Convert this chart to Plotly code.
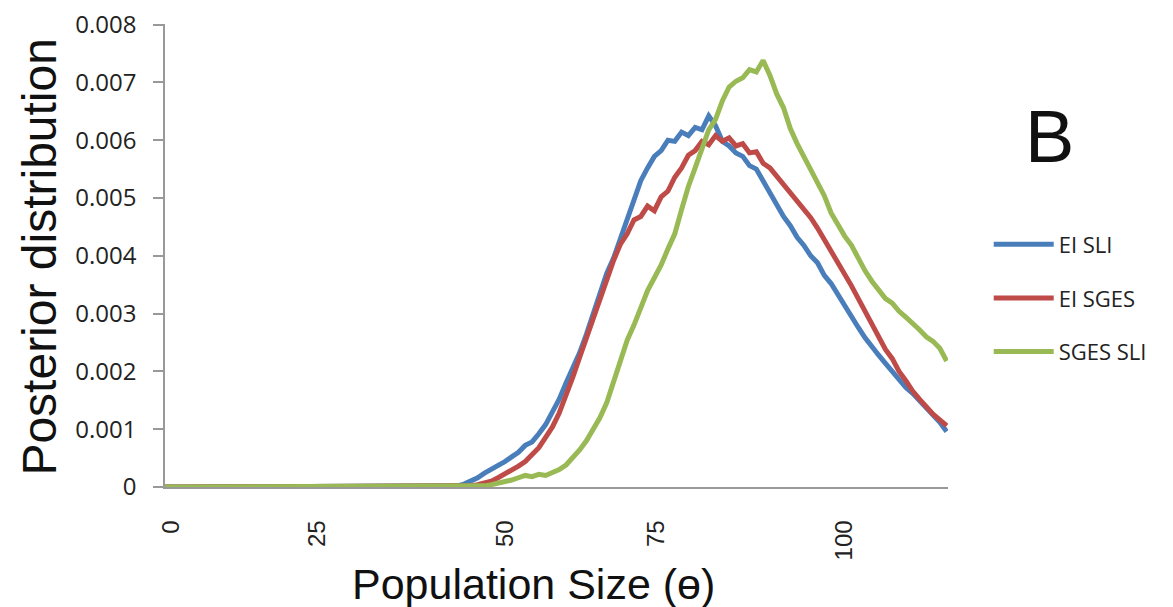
import plotly.graph_objects as go

# Posterior distribution of population size (theta), panel B
# x positions follow the original category axis (0..115), labels are not evenly placed
x_pos = list(range(0, 116))

ei_sli = [0.0] * 43 + [
    0.00002, 0.00005, 0.0001, 0.00016, 0.00024, 0.0003, 0.00036, 0.00044, 0.00052, 0.0006,
    0.00072, 0.00078, 0.00092, 0.00108, 0.0013, 0.00152, 0.0018, 0.00204, 0.00232, 0.00264,
    0.003, 0.00338, 0.0037, 0.00396, 0.0043, 0.00462, 0.00498, 0.0053, 0.00552, 0.00572,
    0.00582, 0.006, 0.00598, 0.00614, 0.00608, 0.00622, 0.00618, 0.00642, 0.00625, 0.00598,
    0.0059, 0.00578, 0.00572, 0.00556, 0.0055, 0.0053, 0.00508, 0.00486, 0.00468, 0.00452,
    0.00432, 0.00418, 0.004, 0.00388, 0.00366, 0.00352, 0.00332, 0.00314, 0.00294, 0.00276,
    0.00258, 0.00242, 0.00228, 0.00214, 0.002, 0.00186, 0.00172, 0.00162, 0.0015, 0.00138,
    0.00126, 0.00112, 0.00096,
]

ei_sges = [0.0] * 45 + [
    0.00002, 0.00004, 0.00007, 0.0001, 0.00016, 0.00022, 0.00028, 0.00036, 0.00044, 0.00056,
    0.00068, 0.00086, 0.00104, 0.00128, 0.00158, 0.0019, 0.00224, 0.00258, 0.00294, 0.00326,
    0.00362, 0.00392, 0.0042, 0.00438, 0.00462, 0.00468, 0.00486, 0.00478, 0.00502, 0.00512,
    0.00536, 0.00552, 0.00574, 0.00582, 0.00598, 0.00592, 0.00608, 0.00598, 0.00604, 0.0059,
    0.00594, 0.00578, 0.0058, 0.0056, 0.00552, 0.00538, 0.00522, 0.0051, 0.00496, 0.00482,
    0.00466, 0.00448, 0.00428, 0.00412, 0.00388, 0.00372, 0.00348, 0.00326, 0.00304, 0.00282,
    0.0026, 0.00238, 0.00222, 0.002, 0.00184, 0.00166, 0.00152, 0.00138, 0.00126, 0.00116,
    0.00106,
]

sges_sli = [0.0] * 47 + [
    0.00002, 0.00004, 0.00006, 0.00008, 0.00012, 0.00016, 0.0002, 0.00018, 0.00022, 0.0002,
    0.00024, 0.0003, 0.00038, 0.0005, 0.00064, 0.0008, 0.00098, 0.0012, 0.00146, 0.00182,
    0.00218, 0.00254, 0.0028, 0.00312, 0.0034, 0.00362, 0.00384, 0.00412, 0.00438, 0.0048,
    0.0052, 0.00552, 0.00586, 0.00618, 0.00636, 0.00668, 0.00692, 0.00702, 0.00708, 0.00722,
    0.00718, 0.00738, 0.00712, 0.0068, 0.00656, 0.0062, 0.00594, 0.00572, 0.00548, 0.00526,
    0.00504, 0.00474, 0.00452, 0.00434, 0.00418, 0.00394, 0.00374, 0.00356, 0.00342, 0.00326,
    0.00318, 0.00304, 0.00294, 0.00284, 0.00272, 0.0026, 0.00252, 0.0024, 0.00218,
]

tick_pos = [0.9, 22.4, 50, 72.2, 100]
tick_text = ["0", "25", "50", "75", "100"]
y_ticks = [0, 0.001, 0.002, 0.003, 0.004, 0.005, 0.006, 0.007, 0.008]
y_text = ["0", "0.001", "0.002", "0.003", "0.004", "0.005", "0.006", "0.007", "0.008"]

series = [
    ("EI SLI", ei_sli, "#4A7EBB"),
    ("EI SGES", ei_sges, "#BE4B48"),
    ("SGES SLI", sges_sli, "#98B954"),
]

fig = go.Figure()
for i, (name, vals, color) in enumerate(series):
    fig.add_trace(go.Scatter(
        x=x_pos, y=vals, name=name, mode="lines",
        line=dict(color=color, width=5),
        legendgroup=str(i),
    ))

# the page body adds an 8px margin, so the figure is 8px smaller each way
fig.update_layout(
    width=1165, height=599,
    margin=dict(l=157, r=225, t=16, b=120),
    paper_bgcolor="white", plot_bgcolor="white",
    showlegend=True,
    legend=dict(
        x=1.052, xanchor="left", y=0.569, yanchor="top",
        font=dict(family="Open Sans", size=22, color="#222"),
        tracegroupgap=22, itemwidth=60,
        bgcolor="rgba(0,0,0,0)",
    ),
    annotations=[
        # panel letter
        dict(text="B", xref="paper", yref="paper", x=1.129, y=0.756,
             xanchor="center", yanchor="middle", showarrow=False,
             font=dict(family="Liberation Sans", size=74, color="#111")),
        # axis titles
        dict(text="Population Size (ɵ)", xref="paper", yref="paper", x=0.47, y=-0.21,
             xanchor="center", yanchor="middle", showarrow=False,
             font=dict(family="Liberation Sans", size=43, color="#111")),
        dict(text="Posterior distribution", xref="paper", yref="paper", x=-0.16, y=0.497,
             xanchor="center", yanchor="middle", showarrow=False, textangle=-90,
             font=dict(family="Liberation Sans", size=48, color="#111")),
    ],
)

fig.update_xaxes(
    range=[0, 115.2], automargin=False,
    tickvals=tick_pos, ticktext=tick_text, tickangle=-90,
    ticks="", ticklabelstandoff=22,
    tickfont=dict(family="Liberation Sans", size=24, color="#222"),
    showline=True, linecolor="#999", linewidth=1.5,
    showgrid=False, zeroline=False,
)

fig.update_yaxes(
    range=[0, 0.00801], automargin=False,
    tickvals=y_ticks, ticktext=y_text,
    ticks="outside", ticklen=10, tickcolor="#999", tickwidth=1.5,
    ticklabelstandoff=12, ticklabeloverflow="allow",
    tickfont=dict(family="Open Sans", size=24, color="#222"),
    showline=True, linecolor="#999", linewidth=1.5,
    showgrid=False, zeroline=False,
)

fig.write_html("out.html")
